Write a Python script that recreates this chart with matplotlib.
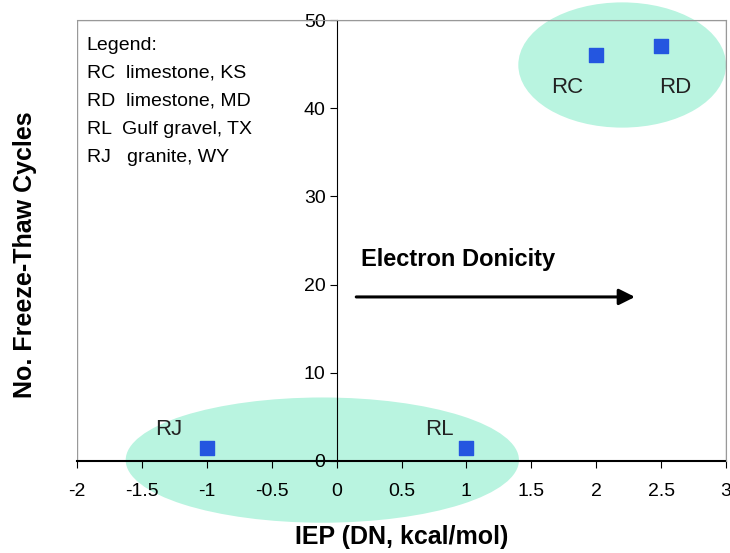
import matplotlib
matplotlib.use('Agg')
import matplotlib.pyplot as plt
from matplotlib.patches import Ellipse, Rectangle

plt.rcParams['font.family'] = ['Liberation Sans', 'DejaVu Sans']

# data
names = ['RC', 'RD', 'RL', 'RJ']
iep = [2.0, 2.5, 1.0, -1.0]
cycles = [46, 47, 1.5, 1.5]
label_pos = [(1.78, 42.4), (2.61, 42.4), (0.79, 3.6), (-1.29, 3.6)]
legend_lines = ['Legend:', 'RC  limestone, KS', 'RD  limestone, MD',
                'RL  Gulf gravel, TX', 'RJ   granite, WY']
xticks = [-2, -1.5, -1, -0.5, 0, 0.5, 1, 1.5, 2, 2.5, 3]
xticklabels = ['-2', '-1.5', '-1', '-0.5', '0', '0.5', '1', '1.5', '2', '2.5', '3']
yticks = [0, 10, 20, 30, 40, 50]

fig = plt.figure(figsize=(7.3, 5.53), dpi=100)
ax = fig.add_axes([0.1055, 0.1664, 0.889, 0.7974])
ax.set_xlim(-2, 3)
ax.set_ylim(0, 50)

# shaded groups
ell_color = '#b9f4e0'
ax.add_patch(Ellipse((-0.11, 0.1), 3.03, 14.2, color=ell_color, zorder=0, clip_on=False, lw=0))
ax.add_patch(Ellipse((2.2, 44.9), 1.6, 14.2, color=ell_color, zorder=0, clip_on=False, lw=0))

ax.scatter(iep, cycles, marker='s', s=110, color='#2456e0', zorder=3, clip_on=False)
for n, (lx, ly) in zip(names, label_pos):
    ax.text(lx, ly, n, ha='center', va='center', fontsize=16, color='#222222')

# box and axes
for s in ['top', 'right']:
    ax.spines[s].set_color('#999999')
ax.add_patch(Rectangle((0, 0), 1, 1, transform=ax.transAxes, fill=False,
                       edgecolor='#999999', lw=1, zorder=1))
ax.spines['left'].set_position(('data', 0))
ax.spines['left'].set_color('black')
ax.spines['left'].set_zorder(2)
ax.spines['bottom'].set_color('black')
ax.spines['bottom'].set_linewidth(1.5)
ax.spines['bottom'].set_zorder(2)

ax.set_xticks(xticks)
ax.set_xticklabels(xticklabels)
ax.set_yticks(yticks)
ax.tick_params(axis='both', direction='out', length=5, labelsize=14, color='black')
ax.tick_params(axis='x', pad=11)
ax.tick_params(axis='y', pad=3)

ax.set_xlabel('IEP (DN, kcal/mol)', fontsize=18, fontweight='bold', labelpad=18)
fig.text(0.034, 0.54, 'No. Freeze-Thaw Cycles', rotation=90, fontsize=18,
         fontweight='bold', ha='center', va='center')

# arrow
ax.annotate('', xy=(2.32, 18.6), xytext=(0.13, 18.6),
            arrowprops=dict(arrowstyle='-|>', color='black', lw=2.2, mutation_scale=24))
ax.text(0.19, 22.8, 'Electron Donicity', fontsize=17, fontweight='bold', va='center')

# legend text
for i, line in enumerate(legend_lines):
    ax.text(0.015, 0.943 - i * 0.0635, line, transform=ax.transAxes, fontsize=14,
            va='center', ha='left')

fig.savefig('out.png', dpi=100)
